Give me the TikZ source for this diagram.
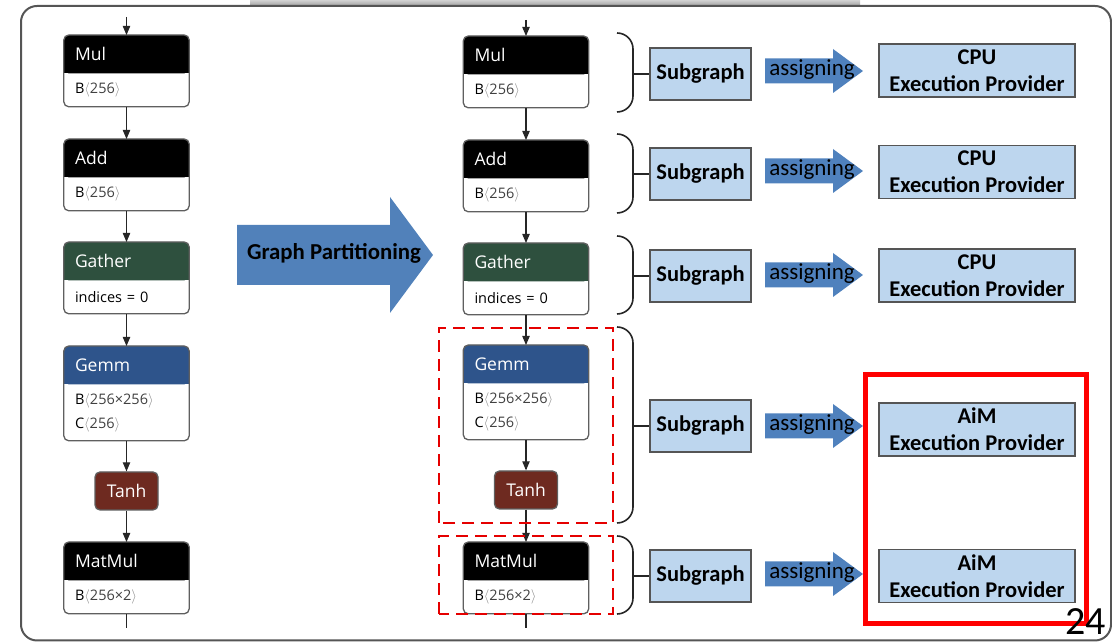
\documentclass[tikz,border=0pt]{standalone}
\usepackage{fontspec}
\setmainfont{Carlito}
\newfontfamily\opfont{Open Sans}
\usepackage{xcolor}
\usepackage{tikz}
\usetikzlibrary{arrows,backgrounds,positioning}

\definecolor{framegray}{RGB}{85,85,85}
\definecolor{opgray}{RGB}{95,95,95}
\definecolor{gathergreen}{RGB}{46,80,62}
\definecolor{gemmblue}{RGB}{46,84,139}
\definecolor{tanhred}{RGB}{110,42,32}
\definecolor{subblue}{RGB}{189,214,238}
\definecolor{assignblue}{RGB}{79,129,189}

\tikzset{
  ophead/.style={anchor=north, minimum height=38pt, text width=103pt, inner xsep=11pt, inner ysep=0pt,
    align=left, text=white, font=\opfont\fontsize{17.5}{20}\selectfont},
  opbody/.style={anchor=north, text width=103pt, inner xsep=11pt, inner ysep=7pt,
    align=left, font=\opfont\fontsize{14.5}{24}\selectfont},
  opline/.style={draw=opgray, line width=1.3pt, rounded corners=5pt},
  tanhbox/.style={fill=tanhred, draw=opgray, line width=1.3pt, rounded corners=5pt, text=white,
    minimum width=63pt, minimum height=38pt, inner sep=0pt, font=\opfont\fontsize{17.5}{20}\selectfont},
  flow/.style={->, line width=1.1pt, draw=black!85},
  cutline/.style={draw=red!90!black, line width=2.2pt, dash pattern=on 12pt off 7pt},
  bracket/.style={draw=black!85, line width=1.6pt},
  subbox/.style={fill=subblue, draw=framegray, line width=1.3pt, minimum width=101pt, minimum height=52pt,
    inner sep=0pt, font=\bfseries\fontsize{22.5}{27}\selectfont},
  provider/.style={fill=subblue, draw=framegray, line width=1.3pt, minimum width=196pt, minimum height=53pt,
    inner sep=0pt, align=center, font=\bfseries\fontsize{22.5}{27}\selectfont},
  assigntext/.style={inner sep=0pt, font=\fontsize{23}{25}\selectfont}
}

% operator box: header with title, body with attributes
\newcommand{\opat}[6][33pt]{%
  \node[ophead] (#2) at #3 {#5};
  \node[opbody, minimum height=#1] (#2b) at (#2.south) {#6};
  \begin{pgfonlayer}{background}
    \fill[#4, rounded corners=5pt] (#2.south west) rectangle (#2.north east);
    \fill[#4] (#2.south west) rectangle (#2.east);
  \end{pgfonlayer}
  \draw[opline] (#2.north west) rectangle (#2b.south east);
}
\newcommand{\dims}[1]{{\color{black!45}$\langle$}{\color{black!75}#1}{\color{black!45}$\rangle$}}
\newcommand{\link}[3][]{\draw[flow,#1] (#2)--(#3) ;}
% right bracket grouping one subgraph
\newcommand{\groupat}[4]{%
  \draw[bracket] (617,#2) to[out=0,in=90] (633,{#2-16}) -- (633,{#3+16}) to[out=-90,in=0] (617,#3);
  \coordinate (#1) at (633,#4);
}
\newcommand{\assignat}[2]{%
  \fill[assignblue] (765,{#2+12.5}) -- (833,{#2+12.5}) -- (833,{#2+22}) -- (863,#2)
    -- (833,{#2-22}) -- (833,{#2-12.5}) -- (765,{#2-12.5}) -- cycle;
  \node[assigntext] (#1) at (812,{#2+1}) {assigning};
}

\begin{document}
\begin{tikzpicture}[x=1pt, y=1pt, >=triangle 45]
  \useasboundingbox (0,0) rectangle (1112,642);

  % slide frame
  \shade[top color=gray!35, bottom color=gray!75] (250,642) rectangle (860,636);
  \draw[framegray, line width=2pt, rounded corners=16pt] (21,1.5) rectangle (1111,636);

  % original graph
  \opat{mulL}{(126.5,607)}{black}{Mul}{B\dims{256}}
  \opat{addL}{(126.5,503)}{black}{Add}{B\dims{256}}
  \opat{gatherL}{(126.5,400)}{gathergreen}{Gather}{indices = 0}
  \opat[56pt]{gemmL}{(126.5,296)}{gemmblue}{Gemm}{B\dims{256×256}\\C\dims{256}}
  \node[tanhbox] (tanhL) at (126.5,151) {Tanh};
  \opat{matmulL}{(126.5,100)}{black}{MatMul}{B\dims{256×2}}

  \coordinate (inL) at (126.5,625);
  \coordinate (outL) at (126.5,14);
  \link{inL}{mulL}
  \link{mulLb}{addL}
  \link{addLb}{gatherL}
  \link{gatherLb}{gemmL}
  \link{gemmLb}{tanhL}
  \link{tanhL}{matmulL}
  \draw[line width=1.1pt, black!85] (matmulLb) -- (outL);

  % partitioning arrow
  \fill[assignblue!95!gray] (237,417) -- (390,417) -- (390,445) -- (433,387) -- (390,329) -- (390,357) -- (237,357) -- cycle;
  \node[inner sep=0pt, font=\bfseries\fontsize{22.8}{25}\selectfont] (part) at (334,389) {Graph Partitioning};

  % partitioned graph
  \opat{mulR}{(526,606)}{black}{Mul}{B\dims{256}}
  \opat{addR}{(526,502)}{black}{Add}{B\dims{256}}
  \opat{gatherR}{(526,399)}{gathergreen}{Gather}{indices = 0}
  \opat[56pt]{gemmR}{(526,297)}{gemmblue}{Gemm}{B\dims{256×256}\\C\dims{256}}
  \node[tanhbox] (tanhR) at (526,152) {Tanh};
  \opat{matmulR}{(526,100)}{black}{MatMul}{B\dims{256×2}}

  \coordinate (inR) at (526,622);
  \coordinate (outR) at (526,14);
  \link{inR}{mulR}
  \link{mulRb}{addR}
  \link{addRb}{gatherR}
  \link{gatherRb}{gemmR}
  \link{gemmRb}{tanhR}
  \link{tanhR}{matmulR}
  \draw[line width=1.1pt, black!85] (matmulRb) -- (outR);

  \draw[cutline] (439,119) rectangle (613,314);
  \draw[cutline] (439,28) rectangle (613,106);

  % subgraphs
  \groupat{g1}{609}{530}{568}
  \groupat{g2}{508}{429}{468}
  \groupat{g3}{406}{328}{366}
  \groupat{g4}{315}{119}{216}
  \groupat{g5}{106}{28}{66}

  \node[subbox] (sub1) at (700.5,568) {Subgraph};
  \node[subbox] (sub2) at (700.5,468) {Subgraph};
  \node[subbox] (sub3) at (700.5,366) {Subgraph};
  \node[subbox] (sub4) at (700.5,216) {Subgraph};
  \node[subbox] (sub5) at (700.5,66) {Subgraph};
  \draw[bracket] (g1) -- (sub1);
  \draw[bracket] (g2) -- (sub2);
  \draw[bracket] (g3) -- (sub3);
  \draw[bracket] (g4) -- (sub4);
  \draw[bracket] (g5) -- (sub5);

  % assignment to execution providers
  \assignat{as1}{571}
  \assignat{as2}{471}
  \assignat{as3}{367}
  \assignat{as4}{216}
  \assignat{as5}{68}

  \node[provider] (cpu1) at (977,571.5) {CPU\\Execution Provider};
  \node[provider] (cpu2) at (977,470) {CPU\\Execution Provider};
  \node[provider] (cpu3) at (977,366.5) {CPU\\Execution Provider};
  \node[provider] (aim1) at (977,212.5) {AiM\\Execution Provider};
  \node[provider] (aim2) at (977,66) {AiM\\Execution Provider};

  \draw[red, line width=5pt] (865,18) rectangle (1086,267);
  \node[anchor=base west, inner sep=0pt, font=\fontsize{40}{40}\selectfont] (page) at (1065,7) {24};
\end{tikzpicture}
\end{document}
